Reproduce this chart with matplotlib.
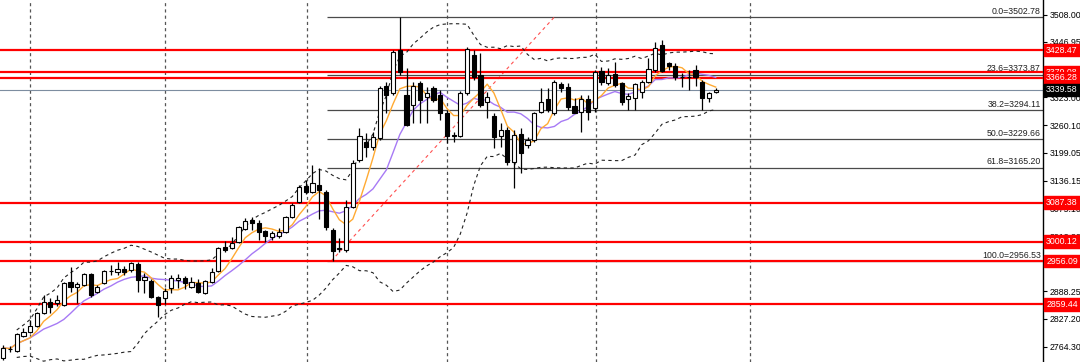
import numpy as np
import pandas as pd
import matplotlib
matplotlib.use("Agg")
import matplotlib.pyplot as plt
import matplotlib.transforms as mtransforms

plt.rcParams['font.family'] = ['Liberation Sans', 'DejaVu Sans']

# daily candles
opens = [2739, 2760, 2755, 2789, 2798, 2811, 2840, 2865, 2862, 2858,
         2910, 2898, 2903, 2927, 2887, 2907, 2934, 2932, 2939, 2936,
         2950, 2914, 2912, 2876, 2874, 2896, 2914, 2918, 2898, 2907,
         2885, 2910, 2934, 2988, 2986, 2999, 3028, 3048, 3042, 3024,
         3010, 3012, 3021, 3055, 3088, 3124, 3111, 3127, 3111, 3026,
         2983, 2981, 3077, 3183, 3223, 3212, 3232, 3348, 3333, 3429,
         3328, 3306, 3355, 3324, 3344, 3328, 3288, 3239, 3236, 3333,
         3418, 3373, 3312, 3281, 3236, 3250, 3178, 3241, 3216, 3227,
         3290, 3319, 3288, 3353, 3346, 3304, 3290, 3319, 3299, 3382,
         3355, 3375, 3355, 3319, 3321, 3335, 3357, 3384, 3440, 3400,
         3393, 3368, 3369, 3384, 3357, 3321, 3335]
highs = [2768, 2766, 2795, 2807, 2824, 2842, 2880, 2874, 2880, 2910,
         2943, 2910, 2930, 2930, 2903, 2936, 2948, 2954, 2945, 2955,
         2954, 2930, 2916, 2878, 2896, 2925, 2927, 2923, 2921, 2916,
         2914, 2941, 2988, 3001, 3010, 3035, 3053, 3055, 3048, 3026,
         3024, 3030, 3057, 3086, 3127, 3138, 3171, 3165, 3116, 3030,
         3008, 3093, 3183, 3254, 3243, 3245, 3348, 3357, 3429, 3502.78,
         3389, 3357, 3360, 3346, 3348, 3339, 3295, 3245, 3337, 3436,
         3429, 3422, 3335, 3288, 3265, 3256, 3250, 3254, 3234, 3290,
         3344, 3344, 3362, 3357, 3355, 3321, 3328, 3328, 3384, 3391,
         3389, 3402, 3357, 3333, 3355, 3362, 3411, 3447, 3451, 3402,
         3400, 3377, 3384, 3395, 3362, 3335, 3344]
lows = [2735, 2753, 2753, 2786, 2795, 2809, 2838, 2840, 2856, 2856,
        2887, 2862, 2900, 2876, 2885, 2905, 2925, 2925, 2925, 2932,
        2887, 2885, 2874, 2831, 2860, 2885, 2896, 2894, 2896, 2885,
        2883, 2907, 2932, 2977, 2983, 2997, 3026, 3026, 3004, 2999,
        3004, 3008, 3019, 3053, 3086, 3106, 3109, 3050, 3026, 2956.53,
        2977, 2977, 3075, 3178, 3189, 3205, 3227, 3288, 3328, 3373,
        3258, 3265, 3266, 3266, 3312, 3272, 3221, 3223, 3234, 3328,
        3362, 3301, 3277, 3210, 3212, 3171, 3120, 3153, 3210, 3223,
        3288, 3290, 3283, 3335, 3295, 3287, 3245, 3272, 3290, 3350,
        3350, 3346, 3306, 3295, 3295, 3321, 3355, 3380, 3380, 3384,
        3362, 3346, 3339, 3348, 3295, 3312, 3333]
closes = [2762, 2759, 2793, 2798, 2811, 2840, 2865, 2853, 2869, 2907,
          2898, 2905, 2927, 2880, 2898, 2934, 2935, 2939, 2932, 2952,
          2914, 2921, 2876, 2858, 2889, 2918, 2918, 2907, 2910, 2887,
          2912, 2932, 2986, 2981, 2997, 3033, 3046, 3042, 3021, 3012,
          3019, 3021, 3055, 3082, 3122, 3111, 3131, 3115, 3033, 2979,
          2986, 3077, 3176, 3236, 3212, 3234, 3344, 3328, 3424, 3380,
          3261, 3348, 3317, 3333, 3317, 3288, 3236, 3237, 3333, 3431,
          3368, 3306, 3324, 3234, 3250, 3178, 3239, 3198, 3227, 3288,
          3312, 3295, 3357, 3344, 3301, 3288, 3319, 3290, 3380, 3357,
          3373, 3350, 3312, 3326, 3353, 3357, 3386, 3433, 3382, 3393,
          3368, 3369, 3368, 3368, 3321, 3333, 3339.58]

# horizontal support / resistance levels (red)
red_levels = [3428.47, 3379.08, 3366.28, 3087.38, 3000.12, 2956.09, 2859.44]
last_price = 3339.58

# fibonacci retracement
fib_low = 2956.53
fib_high = 3502.78
fib_pct = [0.0, 23.6, 38.2, 50.0, 61.8, 100.0]
fib_start = 48.2   # bar index of first anchor
fib_end = 82.0     # bar index of second anchor

# 3385.90 sits under the red tags, so it is not shown
y_ticks = [3508.00, 3446.95, 3323.00, 3260.10, 3199.05, 3136.15,
           3075.10, 3012.20, 2951.15, 2888.25, 2827.20, 2764.30]
grid_bars = [4, 24, 45.2, 66, 88.2, 111.1]

df = pd.DataFrame({'o': opens, 'h': highs, 'l': lows, 'c': closes})
x = np.arange(len(df))
ma_fast = df['c'].rolling(5, min_periods=1).mean()
ma_slow = df['c'].rolling(10, min_periods=1).mean()
bb_mid = df['c'].rolling(20, min_periods=3).mean()
bb_std = df['c'].rolling(20, min_periods=3).std(ddof=0)
bb_up = bb_mid + 2 * bb_std
bb_dn = bb_mid - 2 * bb_std

fs = 6.3

fig = plt.figure(figsize=(10.8, 3.62), dpi=100)
ax = fig.add_axes([0, 0, 1043 / 1080, 1])
ax.set_xlim(-0.49, 154.7)
ax.set_ylim(2730.4, 3540.84)
trans = mtransforms.blended_transform_factory(ax.transAxes, ax.transData)

for g in grid_bars:
    ax.axvline(g, color='#555555', lw=0.9, ls=(0, (2.5, 2.5)), zorder=1)

# fib levels
rng = fib_high - fib_low
for p in fib_pct:
    lv = fib_high - rng * p / 100
    ax.hlines(lv, fib_start, 160, color='#4a4a4a', lw=0.9, zorder=2)
    ax.text(0.998, lv + 3, '%.1f=%.2f' % (p, lv), ha='right', va='bottom',
            transform=trans, fontsize=fs, color='#202020', zorder=6)
ax.plot([fib_start + 0.6, fib_end], [fib_low, fib_high], color='#ff5050',
        lw=0.8, ls=(0, (3, 3)), zorder=3)

# current price line
ax.axhline(last_price, color='#7d8da0', lw=0.8, zorder=2)

for lv in red_levels:
    ax.axhline(lv, color='#ff0000', lw=1.6, zorder=3)

# indicators
ax.plot(x, bb_up, color='#222222', lw=0.8, ls=(0, (3, 3)), zorder=4)
ax.plot(x, bb_dn, color='#222222', lw=0.8, ls=(0, (3, 3)), zorder=4)
ax.plot(x, ma_slow, color='#a77af5', lw=1.0, zorder=4)
ax.plot(x, ma_fast, color='#ffaa33', lw=1.0, zorder=4)

# candles
o = df['o'].values
c = df['c'].values
ax.vlines(x, df['l'], df['h'], color='black', lw=0.9, zorder=5)
up = c >= o
body_lo = np.minimum(o, c)
body_h = np.maximum(np.abs(c - o), 1.2)
ax.bar(x[up], body_h[up], bottom=body_lo[up], width=0.62,
       facecolor='white', edgecolor='black', lw=0.8, zorder=6)
ax.bar(x[~up], body_h[~up], bottom=body_lo[~up], width=0.62,
       facecolor='black', edgecolor='black', lw=0.8, zorder=6)

# axis
for s in ['top', 'bottom', 'left']:
    ax.spines[s].set_visible(False)
ax.spines['right'].set_color('black')
ax.spines['right'].set_linewidth(1.0)
ax.set_xticks([])
ax.yaxis.tick_right()
ax.set_yticks(y_ticks)
ax.set_yticklabels(['%.2f' % t for t in y_ticks])
ax.tick_params(axis='y', direction='out', length=3, width=0.8, pad=1.5,
               labelsize=fs, colors='black')

# price tags on the axis
for lv in red_levels:
    ax.text(1.003, lv, '%.2f' % lv, transform=trans, ha='left', va='center',
            fontsize=fs, color='white', clip_on=False, zorder=10,
            bbox=dict(boxstyle='square,pad=0.2', fc='#ff0000', ec='#ff0000'))
ax.text(1.003, last_price, '%.2f' % last_price, transform=trans, ha='left',
        va='center', fontsize=fs, color='white', clip_on=False, zorder=10,
        bbox=dict(boxstyle='square,pad=0.2', fc='black', ec='black'))

fig.savefig('out.png', dpi=100)
